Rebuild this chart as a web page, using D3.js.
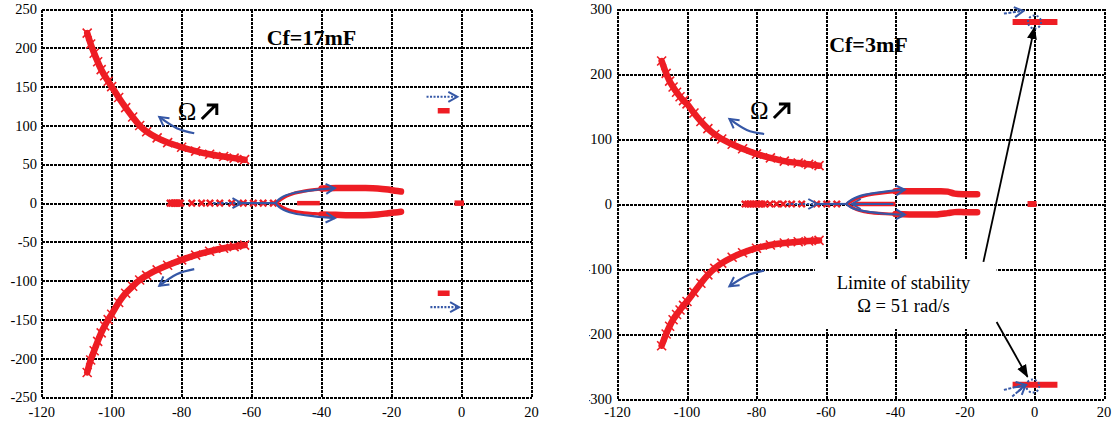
<!DOCTYPE html>
<html><head><meta charset="utf-8">
<script src="https://cdn.jsdelivr.net/npm/d3@7"></script>
<style>body{margin:0;background:#fff}svg{display:block}</style>
</head><body><svg id="c" width="1116" height="426"></svg>
<script>
// ---------- tick values ----------
const xTicks = [-120,-100,-80,-60,-40,-20,0,20];
const yTicksA = [-250,-200,-150,-100,-50,0,50,100,150,200,250];
const yTicksB = [-300,-200,-100,0,100,200,300];

// ---------- panel A : Cf = 17 mF ----------
const upperA = [[-107,219],[-106,205],[-105,193],[-104,182],[-103,172],[-102,164],[-101,157],[-100,150],[-98,136],[-96,123],[-94,111],[-92,100],[-90,92],[-87,84],[-84,78],[-80,72],[-76,67],[-72,63],[-68,60],[-65,58],[-62,56]];
const lowerA = [[-107,-218],[-106,-202],[-105,-190],[-104,-178],[-103,-167],[-102,-158],[-101,-150],[-100,-143],[-98,-128],[-96,-116],[-94,-107],[-92,-99],[-90,-93],[-87,-86],[-84,-80],[-80,-73],[-76,-67],[-72,-62],[-68,-58],[-65,-56],[-62,-54]];
const axisCrossA = [-83.3,-82.8,-82.3,-81.8,-81.3,-80.8,-80.3,-77.1,-74.3,-71.9,-69.1,-65.7,-62.4,-59.5,-56.7,-53.8];
const axisSegA = [[-47,0],[-40.5,0]];
const loopUpperA = [[-53,0],[-51.5,5],[-50,9],[-48,12.5],[-45,15.5],[-42,17.5],[-40,18.5]];
const bandUpperA = [[-40,19],[-36,19.5],[-32,19.5],[-28,19.5],[-24,19],[-21,17.5],[-19,16],[-17.3,15]];
const loopLowerA = [[-53,0],[-51.5,-4.5],[-50,-8],[-48,-10.5],[-45,-12.5],[-42,-13.5],[-40,-14]];
const bandLowerA = [[-40,-14.5],[-36,-15],[-32,-15.5],[-28,-15.5],[-24,-14.5],[-21,-13],[-19,-12],[-17.3,-11]];
const barsA = [[-6.8,-3.4,119],[-6.8,-3.4,-116],[-2,0.7,0]];
const blueCurvesA = [[[-76.4,90],[-81.4,96.5],[-86.4,111]],[[-76.4,-85],[-81.4,-91.5],[-86.4,-106.5]]];
const blueAxisDashA = [[-71,0],[-62.9,0]];
const blueAxisLineA = [[-62.9,0],[-53,0]];
const blueLoopA = [[-36.2,19.3],[-42,17],[-48,13],[-51.5,7],[-53,0],[-51.5,-7],[-48,-13],[-42,-17],[-36.2,-19.3]];
const blueDottedA = [[[-10,137],[-1.2,137]],[[-8.9,-134],[-0.7,-134]]];

// ---------- panel B : Cf = 3 mF ----------
const upperB = [[-107.3,220],[-106,201],[-105,189],[-104,180],[-103,172],[-102,165],[-101,159],[-100,154],[-98,140],[-96,127],[-94,116],[-92,107],[-90,100],[-87,92],[-84,85],[-80,77],[-76,71],[-72,66],[-68,63],[-65,61],[-62,59]];
const lowerB = [[-107.3,-218],[-106,-200],[-105,-188],[-104,-178],[-103,-170],[-102,-163],[-101,-156],[-100,-150],[-98,-136],[-96,-122],[-94,-109],[-92,-99],[-90,-91],[-87,-82],[-84,-75],[-80,-68],[-76,-63],[-72,-60],[-68,-58],[-65,-57],[-62,-56]];
const axisCrossB = [-83.3,-82.5,-81.7,-80.9,-80.1,-79.3,-78.5,-77.6,-76.1,-74.2,-72.3,-69.9,-67,-62.7,-59.8,-56.9];
const axisSegB = [[-52,0],[-40,0]];
const loopUpperB = [[-54,0],[-52.5,5],[-51,9],[-49,12.5],[-46,15.5],[-43,17.5],[-40,19]];
const bandUpperB = [[-40,19.5],[-36,19.5],[-32,19.5],[-28,19.5],[-25,19],[-23,16],[-20,15],[-16.5,15]];
const loopLowerB = [[-54,0],[-52.5,-5],[-51,-9],[-49,-12],[-46,-14],[-43,-15],[-40,-15.5]];
const bandLowerB = [[-40,-15.5],[-36,-16],[-32,-16],[-28,-16],[-25,-14],[-23,-12.5],[-20,-12.5],[-16.5,-12.5]];
const barsB = [[-6.3,6.6,280],[-6.3,6.6,-278],[-2,0.6,0]];
const blueCurvesB = [[[-77.8,107.7],[-82.8,113.8],[-87.8,130.8]],[[-77.8,-102.6],[-82.8,-110.3],[-87.8,-126.6]]];
const blueAxisDashB = [[-71.3,0],[-62.5,0]];
const blueAxisLineB = [[-62.5,0],[-54,0]];
const blueLoopB = [[-37.3,22],[-43,19],[-49,14],[-52.5,7],[-54,0],[-52.5,-6],[-49,-11],[-43,-15],[-37.3,-16.5]];
const blueInnerB = [[-40.6,0],[-52.6,0]];
const blueSmallB = [[[-8.8,293],[-3.2,297]],[[-8.8,-286],[-2.6,-278]],[[-6.4,-296],[-2.6,-279]]];
const blueCirclesB = [[0,280],[-0.5,-280]];
const blackArrowsB = [[[-14.7,-89],[0,272]],[[-10.9,-181.5],[-2,-266]]];
const noteBoxB = [[-63.2,-84.6],[-10.9,-192.3]];
const noteLinesB = ["Limite of stability","Ω = 51 rad/s"];
const noteYB = [-130.8,-166];
const noteXB = -37.7;

const titles = ["Cf=17mF","Cf=3mF"];

// ---------- drawing ----------
const svg = d3.select("#c");
svg.append("rect").attr("width",1116).attr("height",426).attr("fill","#fff");
const RED = "#ee1d24", BLUE = "#3557a6";
const FONT = "'Liberation Serif','Times New Roman',serif";
const defs = svg.append("defs");
defs.append("marker").attr("id","openBlue").attr("markerUnits","userSpaceOnUse")
  .attr("markerWidth",14).attr("markerHeight",14).attr("refX",9).attr("refY",5)
  .attr("orient","auto-start-reverse").attr("viewBox","-2 -2 14 14")
  .append("path").attr("d","M0,0 L9,5 L0,10").attr("fill","none").attr("stroke",BLUE).attr("stroke-width",2);
defs.append("marker").attr("id","blackHead").attr("markerUnits","userSpaceOnUse")
  .attr("markerWidth",14).attr("markerHeight",12).attr("refX",12).attr("refY",5)
  .attr("orient","auto").attr("viewBox","0 0 14 10")
  .append("path").attr("d","M0,0 L13,5 L0,10 z").attr("fill","#000");
defs.append("clipPath").attr("id","clipB").append("rect").attr("x",589).attr("y",4).attr("width",527).attr("height",422);

function gridStyle(s){
  s.select(".domain").remove();
  s.selectAll("line").attr("stroke","#000").attr("stroke-width",2).attr("stroke-dasharray","3,1")
    .attr("shape-rendering","crispEdges");
}

function panel(p){
  const x = d3.scaleLinear().domain([-120,20]).range(p.xr);
  const y = d3.scaleLinear().domain(p.yd).range(p.yr);
  const g = svg.append("g");
  const line = d3.line().x(d=>x(d[0])).y(d=>y(d[1]));
  const smooth = d3.line().x(d=>x(d[0])).y(d=>y(d[1])).curve(d3.curveCatmullRom);
  // grid
  g.append("g").attr("transform",`translate(0,${p.yr[0]})`)
    .call(d3.axisBottom(x).tickValues(xTicks).tickSize(-(p.yr[0]-p.yr[1])).tickFormat(""))
    .call(gridStyle);
  g.append("g").attr("transform",`translate(${p.xr[0]},0)`)
    .call(d3.axisLeft(y).tickValues(p.yTicks).tickSize(-(p.xr[1]-p.xr[0])).tickFormat(""))
    .call(gridStyle);
  // tick labels
  g.append("g").selectAll("text").data(xTicks).join("text")
    .attr("x",d=>x(d)).attr("y",417).attr("text-anchor","middle")
    .attr("font-family",FONT).attr("font-size",14.5).text(d=>d);
  const yl = g.append("g");
  if (p.clip) yl.attr("clip-path","url(#clipB)");
  yl.selectAll("text").data(p.yTicks).join("text")
    .attr("x",p.labelX).attr("y",d=>y(d)).attr("dy","0.35em").attr("text-anchor","end")
    .attr("font-family",FONT).attr("font-size",14.5).text(d=>d);
  // note box (panel B)
  if (p.noteBox){
    const b = p.noteBox;
    g.append("rect").attr("x",x(b[0][0])).attr("y",y(b[0][1]))
      .attr("width",x(b[1][0])-x(b[0][0])).attr("height",y(b[1][1])-y(b[0][1])).attr("fill","#fff");
  }
  // red loci
  [p.upper,p.lower].forEach(arr=>{
    g.append("path").attr("d",smooth(arr)).attr("fill","none").attr("stroke",RED).attr("stroke-width",6.5).attr("stroke-linecap","round");
    g.append("g").selectAll("path").data(arr).join("path")
      .attr("d",d=>{const cx=x(d[0]),cy=y(d[1]);return `M${cx-4.5},${cy-4.5}L${cx+4.5},${cy+4.5}M${cx-4.5},${cy+4.5}L${cx+4.5},${cy-4.5}`;})
      .attr("stroke",RED).attr("stroke-width",1.6);
  });
  g.append("g").selectAll("path").data(p.axisCross).join("path")
    .attr("d",d=>{const cx=x(d),cy=y(0);return `M${cx-3.2},${cy-3.2}L${cx+3.2},${cy+3.2}M${cx-3.2},${cy+3.2}L${cx+3.2},${cy-3.2}`;})
    .attr("stroke",RED).attr("stroke-width",2.4);
  g.append("path").attr("d",line(p.axisSeg)).attr("stroke",RED).attr("stroke-width",4.5).attr("fill","none");
  [p.loopUpper,p.loopLower].forEach(arr=>{
    g.append("path").attr("d",smooth(arr)).attr("fill","none").attr("stroke",RED).attr("stroke-width",3.2);
  });
  [p.bandUpper,p.bandLower].forEach(arr=>{
    g.append("path").attr("d",smooth(arr)).attr("fill","none").attr("stroke",RED).attr("stroke-width",6.5).attr("stroke-linecap","round");
  });
  g.append("g").selectAll("line").data(p.bars).join("line")
    .attr("x1",d=>x(d[0])).attr("x2",d=>x(d[1])).attr("y1",d=>y(d[2])).attr("y2",d=>y(d[2]))
    .attr("stroke",RED).attr("stroke-width",p.barW);
  // blue arrows
  p.blueCurves.forEach(arr=>{
    g.append("path").attr("d",d3.line().x(d=>x(d[0])).y(d=>y(d[1])).curve(d3.curveNatural)(arr))
      .attr("fill","none").attr("stroke",BLUE).attr("stroke-width",2.2).attr("marker-end","url(#openBlue)");
  });
  g.append("path").attr("d",line(p.blueAxisDash)).attr("stroke",BLUE).attr("stroke-width",2.2)
    .attr("stroke-dasharray","2.5,1.5").attr("marker-end","url(#openBlue)");
  g.append("path").attr("d",line(p.blueAxisLine)).attr("stroke",BLUE).attr("stroke-width",2.2);
  g.append("path").attr("d",d3.line().x(d=>x(d[0])).y(d=>y(d[1])).curve(d3.curveCatmullRom)(p.blueLoop))
    .attr("fill","none").attr("stroke",BLUE).attr("stroke-width",2.2)
    .attr("marker-start","url(#openBlue)").attr("marker-end","url(#openBlue)");
  (p.blueDotted||[]).forEach(arr=>{
    g.append("path").attr("d",line(arr)).attr("stroke",BLUE).attr("stroke-width",2.2)
      .attr("stroke-dasharray","2,1.5").attr("marker-end","url(#openBlue)");
  });
  if (p.blueInner) g.append("path").attr("d",line(p.blueInner)).attr("stroke",BLUE).attr("stroke-width",2.2).attr("marker-end","url(#openBlue)");
  (p.blueSmall||[]).forEach(arr=>{
    g.append("path").attr("d",line(arr)).attr("stroke",BLUE).attr("stroke-width",2)
      .attr("stroke-dasharray","3,1.5").attr("marker-end","url(#openBlue)");
  });
  (p.blueCircles||[]).forEach(c=>{
    g.append("circle").attr("cx",x(c[0])).attr("cy",y(c[1])).attr("r",6.5).attr("fill","none")
      .attr("stroke",BLUE).attr("stroke-width",2).attr("stroke-dasharray","2,2");
  });
  (p.blackArrows||[]).forEach(arr=>{
    g.append("path").attr("d",line(arr)).attr("stroke","#000").attr("stroke-width",1.8).attr("marker-end","url(#blackHead)");
  });
  if (p.noteLines){
    g.append("g").selectAll("text").data(p.noteLines).join("text")
      .attr("x",x(p.noteX)).attr("y",(d,i)=>y(p.noteY[i])).attr("text-anchor","middle")
      .attr("font-family",FONT).attr("font-size",18.5).text(d=>d);
  }
  // title
  g.append("text").attr("x",x(p.title[1])).attr("y",y(p.title[2])).attr("font-family",FONT)
    .attr("font-weight","bold").attr("font-size",22).text(p.title[0]);
  // Omega with arrow
  const ox = x(p.omega[0]), oy = y(p.omega[1]);
  g.append("text").attr("x",ox).attr("y",oy).attr("font-family",FONT).attr("font-size",25).text("Ω");
  g.append("path").attr("d",`M${ox+24},${oy-1}L${ox+38},${oy-15}M${ox+29},${oy-15}L${ox+39},${oy-15}L${ox+39},${oy-5}`)
    .attr("fill","none").attr("stroke","#000").attr("stroke-width",3);
}

panel({xr:[41.7,531.5], yd:[-250,250], yr:[397.3,9], yTicks:yTicksA, labelX:37, clip:false,
  upper:upperA, lower:lowerA, axisCross:axisCrossA, axisSeg:axisSegA,
  loopUpper:loopUpperA, loopLower:loopLowerA, bandUpper:bandUpperA, bandLower:bandLowerA,
  bars:barsA, barW:5.5, blueCurves:blueCurvesA, blueAxisDash:blueAxisDashA, blueAxisLine:blueAxisLineA,
  blueLoop:blueLoopA, blueDotted:blueDottedA, title:[titles[0],-55.7,204], omega:[-81.1,107]});

panel({xr:[617.5,1104], yd:[-300,300], yr:[399,9], yTicks:yTicksB, labelX:612, clip:true,
  noteBox:noteBoxB,
  upper:upperB, lower:lowerB, axisCross:axisCrossB, axisSeg:axisSegB,
  loopUpper:loopUpperB, loopLower:loopLowerB, bandUpper:bandUpperB, bandLower:bandLowerB,
  bars:barsB, barW:6, blueCurves:blueCurvesB, blueAxisDash:blueAxisDashB, blueAxisLine:blueAxisLineB,
  blueLoop:blueLoopB, blueInner:blueInnerB, blueSmall:blueSmallB, blueCircles:blueCirclesB,
  blackArrows:blackArrowsB, noteLines:noteLinesB, noteY:noteYB, noteX:noteXB,
  title:[titles[1],-59.1,234], omega:[-81.9,130.8]});
</script></body></html>
